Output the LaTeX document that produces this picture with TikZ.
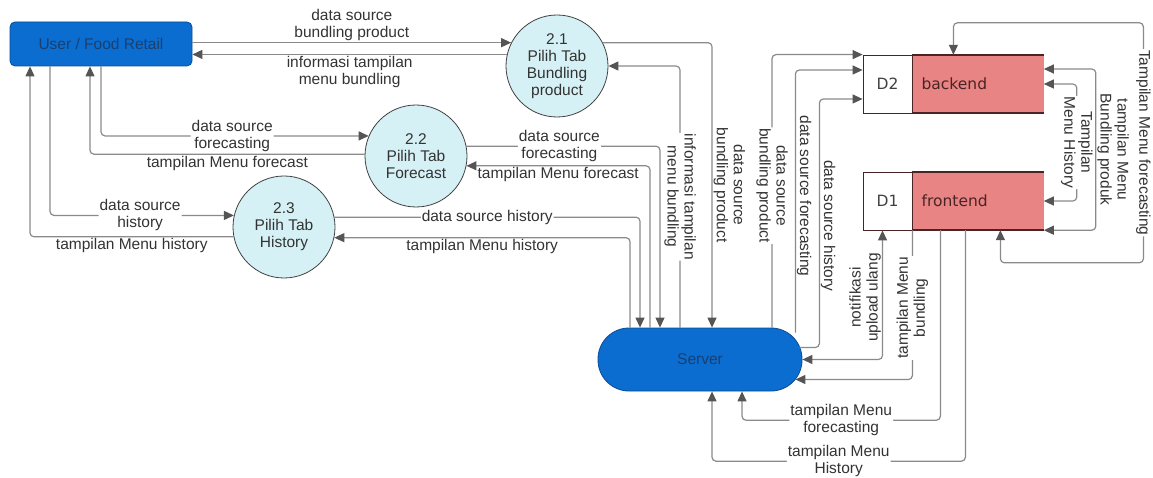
\documentclass[tikz,border=0pt]{standalone}
\usepackage{fontspec}
\setmainfont{Liberation Sans}
\newfontfamily\storefont{DejaVu Sans}
\usetikzlibrary{arrows.meta,positioning}
\definecolor{entblue}{HTML}{0B6DCF}
\definecolor{entborder}{HTML}{0A4C94}
\definecolor{enttext}{HTML}{1A3F70}
\definecolor{procfill}{HTML}{D6F1F5}
\definecolor{storepink}{HTML}{E88484}
\definecolor{storeline}{HTML}{4A2424}
\definecolor{flowgray}{HTML}{8A8A8A}
\definecolor{tipgray}{HTML}{555555}

\begin{document}
\begin{tikzpicture}[x=1pt,y=-1pt,
font=\fontsize{15.5}{17}\selectfont,
ent/.style={draw=entborder,fill=entblue,text=enttext,rectangle,rounded corners=5pt,
    minimum width=182pt,minimum height=44pt,line width=0.8pt},
srv/.style={ent,rounded corners=31pt,minimum width=204pt,minimum height=63pt},
proc/.style={draw=black!75,fill=procfill,circle,minimum size=102pt,inner sep=0pt,
    align=center,line width=0.8pt,text=black!80},
sid/.style={draw=storeline,fill=white,minimum width=49pt,minimum height=58pt,inner sep=0pt,
    font=\storefont\fontsize{15.5}{17}\selectfont,text=black!75,line width=0.8pt},
sname/.style={fill=storepink,minimum width=131pt,minimum height=58pt,inner sep=0pt,
    text width=113pt,align=left,font=\storefont\fontsize{15.5}{17}\selectfont,text=storeline},
flow/.style={draw=flowgray,line width=1.2pt,rounded corners=4pt,
    -{Triangle[length=10pt,width=9pt,color=tipgray]}},
both/.style={flow,{Triangle[length=10pt,width=9pt,color=tipgray]}-{Triangle[length=10pt,width=9pt,color=tipgray]}},
lbl/.style={text=black!80,align=center,inner sep=1pt},
onl/.style={lbl,fill=white}]

\useasboundingbox (0,0) rectangle (1153,478);

% entities and processes
\node (user) [ent] at (101,44) {User / Food Retail};
\node (server) [srv] at (700,359.5) {Server};
\node (p21) [proc] at (557,66) {2.1\\Pilih Tab\\Bundling\\product};
\node (p22) [proc] at (416,156) {2.2\\Pilih Tab\\Forecast};
\node (p23) [proc] at (284,227) {2.3\\Pilih Tab\\History};

% data stores
\node (d2id) [sid] at (887.5,84) {D2};
\node (d2) [sname,right=0pt of d2id] {backend};
\node (d1id) [sid] at (887.5,201) {D1};
\node (d1) [sname,right=0pt of d1id] {frontend};
\draw[storeline,line width=1.6pt] (d2.north west) -- (d2.north east) (d2.south west) -- (d2.south east)
    (d1.north west) -- (d1.north east) (d1.south west) -- (d1.south east);

% user <-> processes
\draw[flow] (user.east |- p21.153) -- node[lbl,above] {data source\\bundling product} (p21.153);
\draw[flow] (p21.167) -- node[lbl,below] {informasi tampilan\\menu bundling} (user.east |- p21.167);
\draw[flow] (user.south) |- node[onl,pos=0.745] {data source\\forecasting} (p22.157);
\draw[flow] (p22.178) -| node[lbl,below,pos=0.25] {tampilan Menu forecast} ([xshift=-11pt]user.south);
\draw[flow] ([xshift=-51pt]user.south) |- node[onl,pos=0.745] {data source\\history} (p23.167);
\draw[flow] (p23.191) -| node[lbl,below,pos=0.25] {tampilan Menu history} ([xshift=-71pt]user.south);

% processes <-> server
\draw[flow] (p21.27) -| node[lbl,anchor=south,rotate=-90,pos=0.75] {data source\\bundling product} ([xshift=12pt]server.north);
\draw[flow] ([xshift=-20pt]server.north) |- node[onl,rotate=-90,pos=0.25] {informasi tampilan\\menu bundling} (p21.east);
\draw[flow] (p22.11) -| node[onl,pos=0.24] {data source\\forecasting} ([xshift=-40pt]server.north);
\draw[flow] ([xshift=-50pt]server.north) |- node[lbl,below,pos=0.75] {tampilan Menu forecast} (p22.-11);
\draw[flow] (p23.11) -| node[onl,pos=0.25] {data source history} ([xshift=-60pt]server.north);
\draw[flow] ([xshift=-70pt]server.north) |- node[lbl,below,pos=0.75] {tampilan Menu history} (p23.-12);

% server <-> stores
\draw[flow] ([xshift=72pt]server.north) |- node[onl,rotate=-90,pos=0.26] {data source\\bundling product} (d2id.north west);
\draw[flow] ([xshift=-7pt,yshift=-5pt]server.north east) |- node[lbl,anchor=south,rotate=-90,pos=0.26] {data source forecasting} ([yshift=14pt]d2id.west);
\draw[flow] ([xshift=-3pt,yshift=12pt]server.east) -- ++(20,0) |- node[lbl,anchor=south,rotate=-90,pos=0.245] {data source history} ([yshift=-15pt]d2id.west);
\draw[both] (server.east) -| node[lbl,anchor=south,rotate=90,pos=0.74] {notifikasi\\upload ulang} ([xshift=-5pt]d1id.south);
\draw[flow] (d1id.south east) |- node[onl,rotate=90,pos=0.26] {tampilan Menu\\bundling} ([xshift=-7pt,yshift=-20pt]server.east);
\draw[flow] ([xshift=28pt]d1.south west) -- ++(0,190) -| node[onl,pos=0.25] {tampilan Menu\\forecasting} ([xshift=42pt]server.south);
\draw[flow] ([xshift=53pt]d1.south west) -- ++(0,231) -| node[onl,pos=0.25] {tampilan Menu\\History} ([xshift=12pt]server.south);

% store <-> store
\draw[both] ([xshift=41pt]d2.north west) -- ++(0,-32) -- ++(190,0)
    -- node[onl,rotate=-90,midway] {Tampilan Menu forecasting} ++(0,240) -| ([xshift=88pt]d1.south west);
\draw[both] ([yshift=15pt]d2.east) -- ++(52,0) |- node[lbl,anchor=south,rotate=-90,pos=0.25] {tampilan Menu\\Bundling produk} (d1.south east);
\draw[both] (d2.east) -- ++(33,0) |- node[onl,rotate=-90,pos=0.25] {Tampilan\\Menu History} (d1.east);
\end{tikzpicture}
\end{document}
